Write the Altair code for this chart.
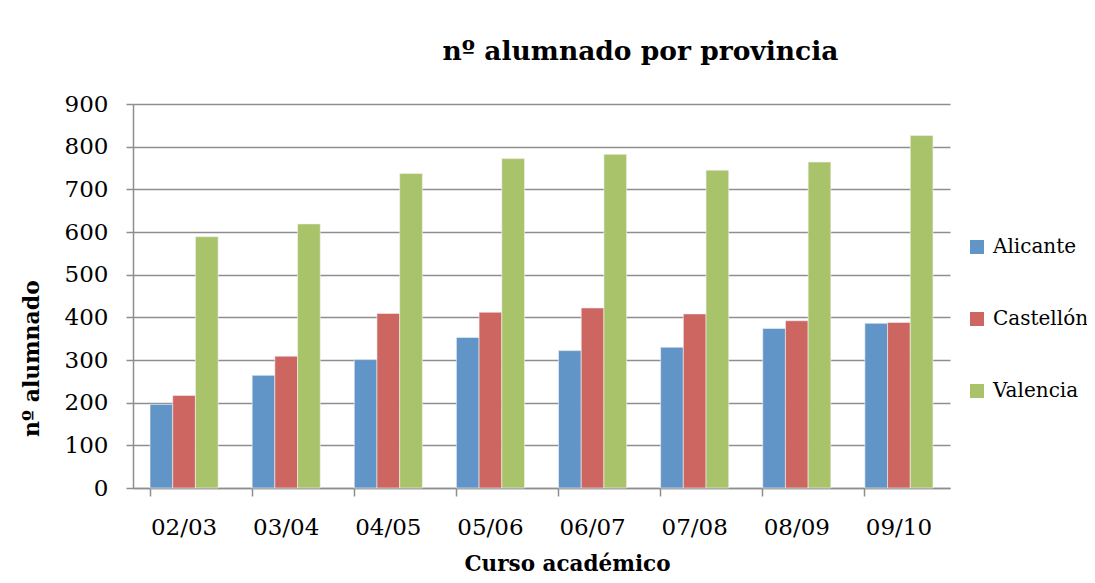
import altair as alt
import pandas as pd

cursos = ["02/03", "03/04", "04/05", "05/06", "06/07", "07/08", "08/09", "09/10"]
provincias = ["Alicante", "Castellón", "Valencia"]
alicante = [196, 264, 301, 353, 322, 330, 374, 386]
castellon = [217, 309, 409, 412, 422, 408, 392, 388]
valencia = [589, 619, 737, 772, 782, 745, 764, 826]
colores = ["#6195C8", "#CD6560", "#A9C36A"]

rows = []
for serie, vals in zip(provincias, [alicante, castellon, valencia]):
    for c, v in zip(cursos, vals):
        rows.append({"Curso": c, "Provincia": serie, "Valor": v})
df = pd.DataFrame(rows)

FONT = "DejaVu Serif"
GRID = "#8E8E8E"

chart = alt.Chart(df).mark_bar(stroke="#f4f4f4", strokeWidth=0.6).encode(
    x=alt.X("Curso:N", sort=cursos,
            scale=alt.Scale(paddingInner=0.333, paddingOuter=0.1667),
            axis=alt.Axis(title="Curso académico", labelAngle=0, bandPosition=0,
                          labelFontSize=23, labelPadding=20, tickSize=8,
                          tickColor=GRID, tickWidth=1.5, domainColor=GRID, domainWidth=1.5,
                          titleFontSize=21.5, titleFontWeight="bold",
                          titleX=434, titleY=65, titleBaseline="top", titleAlign="center",
                          labelColor="black", titleColor="black", grid=False)),
    xOffset=alt.XOffset("Provincia:N", sort=provincias),
    y=alt.Y("Valor:Q",
            scale=alt.Scale(domain=[0, 900]),
            axis=alt.Axis(title="nº alumnado", values=list(range(0, 901, 100)),
                          labelFontSize=23, labelPadding=18, tickSize=7,
                          tickColor=GRID, tickWidth=1.5, domainColor=GRID, domainWidth=1.5,
                          gridColor=GRID, gridWidth=1.5, labelColor="black",
                          titleFontSize=22, titleFontWeight="bold", titleColor="black",
                          titleX=-90, titleY=254)),
    color=alt.Color("Provincia:N", sort=provincias,
                    scale=alt.Scale(domain=provincias, range=colores),
                    legend=alt.Legend(title=None, orient="none", legendX=834, legendY=133,
                                      symbolType="square", symbolSize=196,
                                      symbolStrokeWidth=0, labelFontSize=20,
                                      labelColor="black", rowPadding=52, labelOffset=6,
                                      labelLimit=200)),
).properties(
    width=817, height=384,
    title=alt.TitleParams("nº alumnado por provincia", fontSize=26.5, fontWeight="bold",
                          color="black", dx=99, offset=28, anchor="middle"),
    padding={"left": 125, "top": 96, "right": 137, "bottom": 87},
    autosize=alt.AutoSizeParams(type="none"),
).configure(font=FONT).configure_view(stroke=None)

chart.save("out.html", embed_options={"renderer": "svg", "actions": False})
